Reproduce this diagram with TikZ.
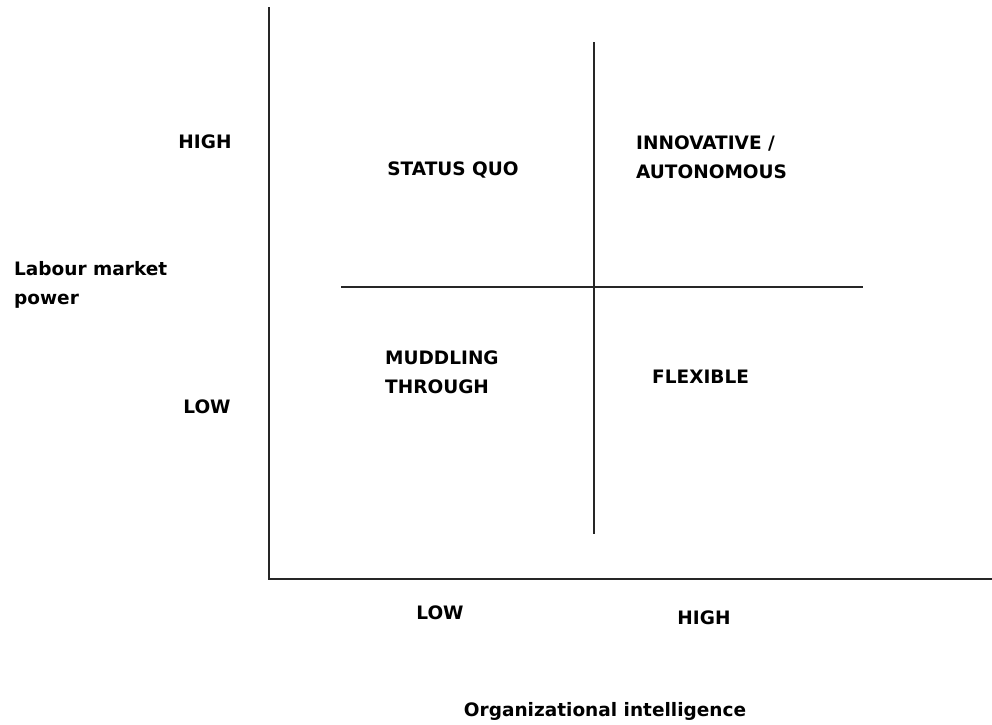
\documentclass[tikz,border=0pt]{standalone}
\usepackage{fontspec}
\setmainfont{DejaVu Sans}
\begin{document}
\begin{tikzpicture}[x=1pt,y=-1pt,
  lbl/.style={font=\bfseries\fontsize{18.5pt}{29pt}\selectfont, inner sep=0pt, align=left},
  axis/.style={line width=1.4pt, black!85},
  qline/.style={line width=1.2pt, black!85}]
\useasboundingbox[fill=white] (0,0) rectangle (992,724);
% axes
\coordinate (ytop) at (269,7);
\coordinate (orig) at (269,579);
\coordinate (xend) at (992,579);
\draw[axis] (ytop) -- (orig) -- (xend);
% quadrant lines
\coordinate (vt) at (594,42);
\coordinate (vb) at (594,534);
\coordinate (hl) at (341,287);
\coordinate (hr) at (863,287);
\draw[qline] (vt) -- (vb);
\draw[qline] (hl) -- (hr);
% labels
\node[lbl] (yhigh) at (205,142) {HIGH};
\node[lbl] (ylow) at (207,407) {LOW};
\node[lbl, anchor=west] (ylab) at (14,285) {Labour market\\power};
\node[lbl] (sq) at (453,170) {STATUS QUO};
\node[lbl, anchor=west] (inn) at (636,157) {INNOVATIVE /\\AUTONOMOUS};
\node[lbl, anchor=west] (mud) at (385,372) {MUDDLING\\THROUGH};
\node[lbl, anchor=west] (flex) at (652,377) {FLEXIBLE};
\node[lbl] (xlow) at (440,613) {LOW};
\node[lbl] (xhigh) at (704,618) {HIGH};
\node[lbl] (xlab) at (605,711) {Organizational intelligence};
\end{tikzpicture}
\end{document}
